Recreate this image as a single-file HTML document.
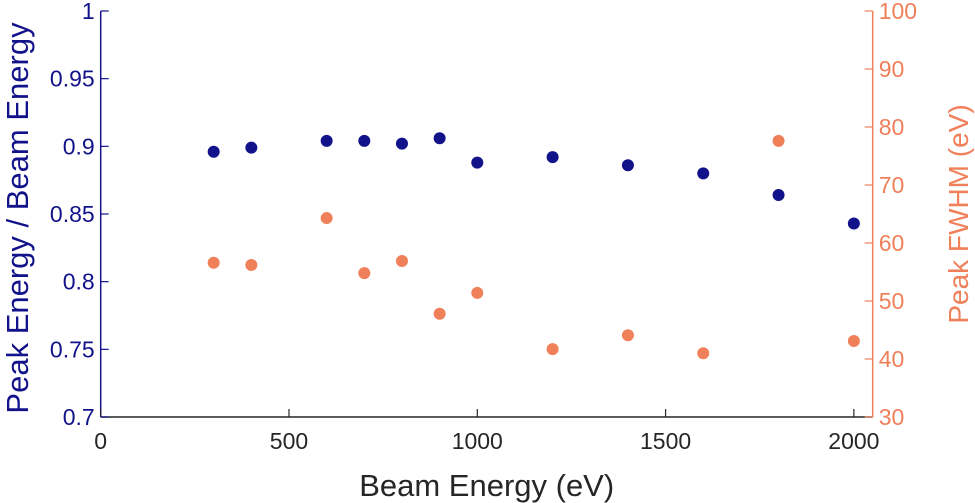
<!DOCTYPE html>
<html><head><meta charset="utf-8"><style>
body{margin:0;background:#fff;}
svg{display:block;font-family:"Liberation Sans",Arial,sans-serif;}
</style></head><body>
<svg id="c" width="975" height="503"></svg>
<script>
const beamEnergy=[300,400,600,700,800,900,1000,1200,1400,1600,1800,2000];
const peakRatio=[0.896,0.899,0.904,0.904,0.902,0.906,0.888,0.892,0.886,0.880,0.864,0.843];
const peakFWHM=[56.6,56.2,64.3,54.8,56.9,47.8,51.4,41.7,44.1,41.0,77.6,43.1];
const xTicks=[0,500,1000,1500,2000];
const yLeftTicks=[0.7,0.75,0.8,0.85,0.9,0.95,1];
const yRightTicks=[30,40,50,60,70,80,90,100];
const L=100.7,R=872.7,T=11,B=417;
const blue="#12128a",orange="#f0805a",dark="#262626";
const sx=v=>L+(v-0)/(2050-0)*(R-L);
const syL=v=>B-(v-0.7)/0.3*(B-T);
const syR=v=>B-(v-30)/70*(B-T);
const svg=document.getElementById('c');
const NS="http://www.w3.org/2000/svg";
function mk(tag,attrs,parent){const e=document.createElementNS(NS,tag);for(const k in attrs)e.setAttribute(k,attrs[k]);(parent||svg).appendChild(e);return e;}
let e;
e=mk('line',{x1:L,y1:B,x2:R,y2:B,stroke:dark,'stroke-width':1.5});


e=mk('line',{x1:L,y1:T,x2:L,y2:B,stroke:blue,'stroke-width':1.5});


e=mk('line',{x1:R,y1:T,x2:R,y2:B,stroke:orange,'stroke-width':1.5});


xTicks.forEach(t=>{
  mk('line',{x1:sx(t),y1:B,x2:sx(t),y2:B-8,stroke:dark,'stroke-width':1.2});
  e=mk('text',{x:sx(t),y:B+32,'text-anchor':'middle','font-size':23,fill:dark});
  e.textContent=t;
  
  
});
yLeftTicks.forEach(t=>{
  mk('line',{x1:L,y1:syL(t),x2:L+8,y2:syL(t),stroke:blue,'stroke-width':1.2});
  e=mk('text',{x:L-6,y:syL(t)+8,'text-anchor':'end','font-size':23,fill:blue});
  e.textContent=String(t);
  
  
});
yRightTicks.forEach(t=>{
  mk('line',{x1:R,y1:syR(t),x2:R-8,y2:syR(t),stroke:orange,'stroke-width':1.2});
  e=mk('text',{x:R+6,y:syR(t)+8,'text-anchor':'start','font-size':23,fill:orange});
  e.textContent=t;
  
  
});
beamEnergy.forEach((x,i)=>{
  e=mk('circle',{cx:sx(x),cy:syL(peakRatio[i]),r:6,fill:blue});
  
  
  e=mk('circle',{cx:sx(x),cy:syR(peakFWHM[i]),r:6,fill:orange});
  
  
});
e=mk('text',{x:(L+R)/2,y:496,'text-anchor':'middle','font-size':31,fill:dark});
e.textContent='Beam Energy (eV)';


e=mk('text',{x:0,y:0,'text-anchor':'middle','font-size':31,fill:blue,transform:`translate(28,${(T+B)/2+4}) rotate(-90)`});
e.textContent='Peak Energy / Beam Energy';


e=mk('text',{x:0,y:0,'text-anchor':'middle','font-size':28,fill:orange,transform:`translate(968,${(T+B)/2}) rotate(-90)`});
e.textContent='Peak FWHM (eV)';


</script>
</body></html>
